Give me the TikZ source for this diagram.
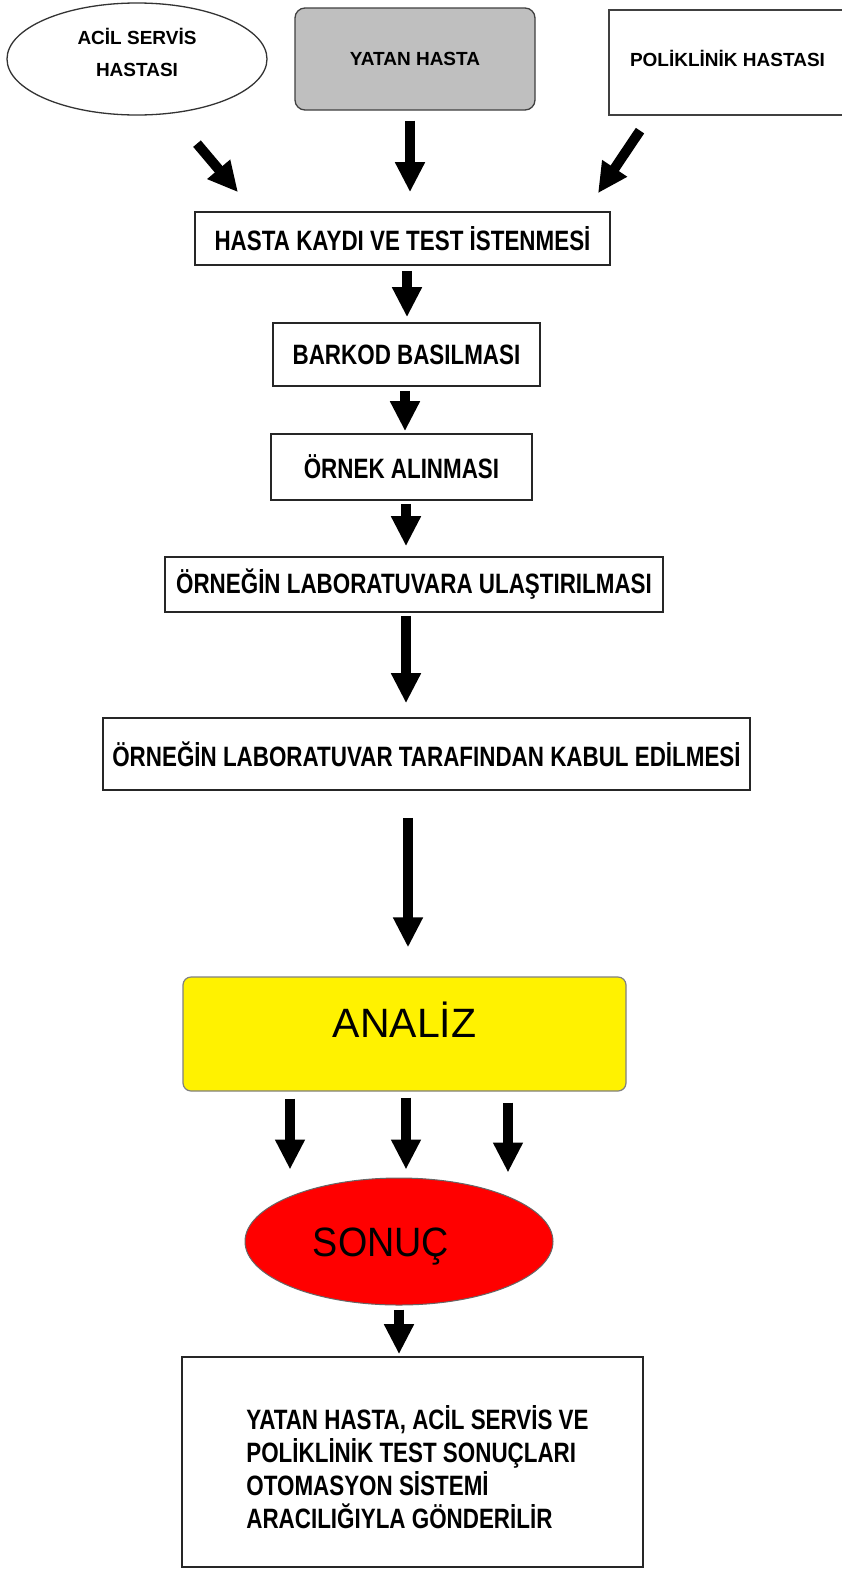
\documentclass[tikz,border=0pt]{standalone}
\usepackage{fontspec}
\setmainfont{Liberation Sans}
\newfontfamily\narrowbold{Liberation Sans}[FakeStretch=0.8]
\newfontfamily\sonfont{Liberation Sans}[FakeStretch=0.92]
\usetikzlibrary{arrows.meta,shapes.geometric}
\begin{document}
\begin{tikzpicture}[x=1pt,y=-1pt,
  stepbox/.style={draw=black!85, line width=1.6pt, inner sep=0pt, font=\narrowbold\bfseries\fontsize{28}{33}\selectfont},
  topfont/.style={font=\bfseries\fontsize{19}{32}\selectfont},
  arr/.style={line width=10pt, -{Triangle[width=28pt,length=30pt]}},
]
\useasboundingbox (0,0) rectangle (841,1569);
\fill[white] (0,0) rectangle (841,1569);

\node[ellipse, draw=black!80, line width=1.3pt, minimum width=260pt, minimum height=112pt, inner sep=0pt, align=center, topfont] (acil) at (137,59) {ACİL SERVİS\\HASTASI\rule[-14pt]{0pt}{14pt}};
\node[draw=black!75, fill=black!25, rounded corners=10pt, line width=1.3pt, minimum width=240pt, minimum height=102pt, inner sep=0pt, topfont] (yatan) at (415,59) {YATAN HASTA};
\node[draw=black!75, line width=1.3pt, minimum width=237pt, minimum height=105pt, inner sep=0pt, topfont] (poli) at (727.5,62.5) {POLİKLİNİK HASTASI\rule[-8pt]{0pt}{8pt}};

\node[stepbox, minimum width=415pt, minimum height=53pt] (kayit) at (402.5,238.5) {HASTA KAYDI VE TEST İSTENMESİ};
\node[stepbox, minimum width=267pt, minimum height=63pt] (barkod) at (406.5,354.5) {BARKOD BASILMASI};
\node[stepbox, minimum width=261pt, minimum height=66pt] (ornek) at (401.5,467) {ÖRNEK ALINMASI};
\node[stepbox, minimum width=498pt, minimum height=55pt] (ulas) at (414,584.5) {ÖRNEĞİN LABORATUVARA ULAŞTIRILMASI};
\node[stepbox, minimum width=647pt, minimum height=72pt] (kabul) at (426.5,754) {ÖRNEĞİN LABORATUVAR TARAFINDAN KABUL EDİLMESİ};

\node[draw=black!50, fill=yellow, rounded corners=8pt, line width=1.2pt, minimum width=443pt, minimum height=114pt, inner sep=0pt, font=\fontsize{41}{41}\selectfont, text height=37pt, text depth=30pt] (analiz) at (404.5,1034) {ANALİZ};

\node[ellipse, draw=black!60, fill=red, line width=1pt, minimum width=308pt, minimum height=127pt, inner sep=0pt, font=\sonfont\fontsize{41}{41}\selectfont, text height=29pt, text depth=0pt] (sonuc) at (399,1241.5) {SONUÇ\hspace*{36pt}};

\node[stepbox, minimum width=461pt, minimum height=210pt, align=left] (final) at (412.5,1462) {\hspace*{10pt}\rule{0pt}{34pt}YATAN HASTA, ACİL SERVİS VE\\\hspace*{10pt}POLİKLİNİK TEST SONUÇLARI\\\hspace*{10pt}OTOMASYON SİSTEMİ\\\hspace*{10pt}ARACILIĞIYLA GÖNDERİLİR};

\draw[arr] ([shift={(60,28)}]acil.south) -- ([shift={(-164.5,-19)}]kayit.north);
\draw[arr] ([shift={(-5,10)}]yatan.south) -- ([shift={(7.5,-19)}]kayit.north);
\draw[arr] ([shift={(-87.5,15)}]poli.south) -- ([shift={(195.5,-18)}]kayit.north);
\draw[arr] ([shift={(4.5,5)}]kayit.south) -- ([shift={(0.5,-5)}]barkod.north);
\draw[arr] ([shift={(-1.5,4)}]barkod.south) -- ([shift={(3.5,-2)}]ornek.north);
\draw[arr] ([shift={(4.5,3)}]ornek.south) -- ([shift={(-8,-10)}]ulas.north);
\draw[arr] ([shift={(-8,3)}]ulas.south) -- ([shift={(-20.5,-14)}]kabul.north);
\draw[arr] ([shift={(-18.5,27)}]kabul.south) -- ([shift={(3.5,-29)}]analiz.north);
\draw[arr] ([shift={(-114.5,7)}]analiz.south) -- ([shift={(-109,-8)}]sonuc.north);
\draw[arr] ([shift={(1.5,6)}]analiz.south) -- ([shift={(7,-8)}]sonuc.north);
\draw[arr] ([shift={(103.5,11)}]analiz.south) -- ([shift={(109,-5)}]sonuc.north);
\draw[arr] ([shift={(0,4)}]sonuc.south) -- ([shift={(-13.5,-2)}]final.north);
\end{tikzpicture}
\end{document}
